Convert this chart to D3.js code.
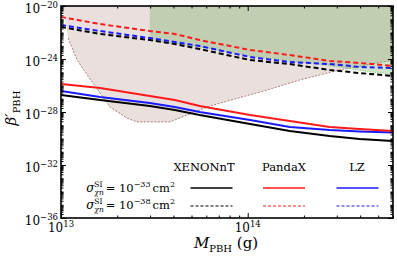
<!DOCTYPE html>
<html lang="en">

<head>
    <meta charset="UTF-8">
    <title>PBH bounds</title>
    <script src="https://d3js.org/d3.v7.min.js"></script>
    <style>
        body {
            margin: 0;
            padding: 0;
            background: #fff;
        }
    </style>
</head>

<body>
    <div id="chart"></div>

    <script>
        // Mass grid (g) shared by the six detector curves
        const massGrid = [1e13, 1.62e13, 2.99e13, 4.07e13, 5.53e13, 1.03e14, 1.68e14, 2.75e14, 3.97e14, 6e14];

        // log10(beta') for sigma = 1e-33 cm^2 (solid)
        const xenonSolid = [-26.72, -27.09, -27.55, -27.85, -28.23, -28.91, -29.43, -29.81, -30.04, -30.19];
        const pandaSolid = [-25.89, -26.19, -26.79, -27.09, -27.55, -28.23, -28.68, -29.13, -29.28, -29.43];
        const lzSolid = [-26.42, -26.87, -27.32, -27.62, -28.00, -28.60, -29.13, -29.36, -29.47, -29.55];

        // log10(beta') for sigma = 1e-38 cm^2 (dashed)
        const xenonDashed = [-21.58, -22.11, -22.57, -22.87, -23.25, -24.08, -24.38, -24.83, -25.06, -25.28];
        const pandaDashed = [-20.83, -21.36, -21.89, -22.11, -22.57, -23.32, -23.70, -24.15, -24.30, -24.53];
        const lzDashed = [-21.43, -21.89, -22.42, -22.72, -23.02, -23.85, -24.23, -24.38, -24.60, -24.68];

        // brown excluded region, lower edge (dotted)
        const brownMass = [1.025e13, 1.09e13, 1.22e13, 1.48e13, 1.83e13, 2.25e13, 2.55e13, 3.83e13, 6.27e13, 1.27e14, 1.9e14, 3.1e14, 4.33e14, 6e14];
        const brownLogBeta = [-20, -22.42, -24.08, -25.81, -27.62, -28.45, -28.75, -28.75, -27.55, -26.34, -25.58, -24.83, -24.45, -24.08];

        // green excluded region, lower edge (dotted)
        const greenMass = [2.99e13, 5.53e13, 1.03e14, 1.9e14, 3.1e14, 4.49e14, 6e14];
        const greenLogBeta = [-22.57, -23.09, -23.77, -24.23, -24.60, -24.98, -25.13];

        const yTickExps = [-20, -24, -28, -32, -36];
        const xTickExps = [13, 14];
        const experiments = ['XENONnT', 'PandaX', 'LZ'];
        const expColors = ['#000000', '#ff1a1a', '#1a1aff'];
        const sigmaExps = ['\u221233', '\u221238'];

        const W = 397, H = 259;
        const margin = { top: 6, right: 4, bottom: 41, left: 61 };
        const width = W - margin.left - margin.right,
            height = H - margin.top - margin.bottom;
        const serif = "'DejaVu Serif', serif";

        const svg = d3.select("#chart")
            .append("svg")
            .attr("width", W)
            .attr("height", H)
            .attr("font-family", serif);

        const g = svg.append("g")
            .attr("transform", `translate(${margin.left},${margin.top})`);

        const x = d3.scaleLog().domain([1e13, 6e14]).range([0, width]);
        const y = d3.scaleLog().domain([1e-36, 1e-20]).range([height, 0]);
        const p = e => Math.pow(10, e);

        g.append("defs").append("clipPath").attr("id", "clip")
            .append("rect").attr("width", width).attr("height", height);

        const plot = g.append("g").attr("clip-path", "url(#clip)");

        // brown region
        const brownPts = brownMass.map((m, i) => [x(m), y(p(brownLogBeta[i]))]);
        const brownPoly = [[x(6e14), y(1e-20)], ...brownPts.slice().reverse()];
        plot.append("path")
            .attr("d", d3.line()(brownPoly) + "Z")
            .attr("fill", "#e9dfdc");
        plot.append("path")
            .attr("d", d3.line()(brownPts.slice(1)))
            .attr("fill", "none")
            .attr("stroke", "#a8827a")
            .attr("stroke-width", 1)
            .attr("stroke-dasharray", "2,1.5");

        // green region
        const greenPts = greenMass.map((m, i) => [x(m), y(p(greenLogBeta[i]))]);
        const greenPoly = [[x(greenMass[0]), y(1e-20)], [x(6e14), y(1e-20)], ...greenPts.slice().reverse()];
        plot.append("path")
            .attr("d", d3.line()(greenPoly) + "Z")
            .attr("fill", "rgba(110,170,90,0.32)");
        plot.append("path")
            .attr("d", d3.line()(greenPts))
            .attr("fill", "none")
            .attr("stroke", "#7cc47a")
            .attr("stroke-width", 1)
            .attr("stroke-dasharray", "1,1.5");

        // curves
        const curve = d3.line()
            .x((d, i) => x(massGrid[i]))
            .y(d => y(p(d)));

        const series = [
            { data: xenonDashed, color: expColors[0], dash: "5,3" },
            { data: lzDashed, color: expColors[2], dash: "5,3" },
            { data: pandaDashed, color: expColors[1], dash: "5,3" },
            { data: xenonSolid, color: expColors[0], dash: null },
            { data: lzSolid, color: expColors[2], dash: null },
            { data: pandaSolid, color: expColors[1], dash: null }
        ];
        series.forEach(s => {
            plot.append("path")
                .datum(s.data)
                .attr("fill", "none")
                .attr("stroke", s.color)
                .attr("stroke-width", 2)
                .attr("stroke-dasharray", s.dash)
                .attr("d", curve);
        });

        // axes: ticks inward on all four sides
        const yMajor = yTickExps.map(p);
        const yMinor = [];
        for (let e = -36; e < -20; e++) {
            for (let k = 1; k < 10; k++) {
                const v = k * p(e);
                if (!yMajor.includes(v)) yMinor.push(v);
            }
        }
        const xMajor = xTickExps.map(p);
        const xMinor = [2, 3, 4, 5, 6, 7, 8, 9].map(k => k * 1e13).concat([2, 3, 4, 5, 6].map(k => k * 1e14));

        function styleAxis(sel) {
            sel.select(".domain").remove();
            sel.selectAll("line").attr("stroke", "#000").attr("stroke-width", 1);
            sel.selectAll("text").remove();
        }

        g.append("g").call(d3.axisLeft(y).tickValues(yMajor).tickSize(-5)).call(styleAxis);
        g.append("g").call(d3.axisLeft(y).tickValues(yMinor).tickSize(-2.5)).call(styleAxis);
        g.append("g").attr("transform", `translate(${width},0)`)
            .call(d3.axisRight(y).tickValues(yMajor).tickSize(-5)).call(styleAxis);
        g.append("g").attr("transform", `translate(${width},0)`)
            .call(d3.axisRight(y).tickValues(yMinor).tickSize(-2.5)).call(styleAxis);
        g.append("g").attr("transform", `translate(0,${height})`)
            .call(d3.axisBottom(x).tickValues(xMajor).tickSize(-5)).call(styleAxis);
        g.append("g").attr("transform", `translate(0,${height})`)
            .call(d3.axisBottom(x).tickValues(xMinor).tickSize(-2.5)).call(styleAxis);
        g.append("g").call(d3.axisTop(x).tickValues(xMajor).tickSize(-5)).call(styleAxis);
        g.append("g").call(d3.axisTop(x).tickValues(xMinor).tickSize(-2.5)).call(styleAxis);

        g.append("rect")
            .attr("width", width)
            .attr("height", height)
            .attr("fill", "none")
            .attr("stroke", "#000")
            .attr("stroke-width", 1.6);

        // tick labels
        yTickExps.forEach(e => {
            const t = g.append("text")
                .attr("x", -3)
                .attr("y", y(p(e)) + 7)
                .attr("text-anchor", "end")
                .attr("font-size", 12);
            t.append("tspan").text("10");
            t.append("tspan").attr("dy", -5).attr("font-size", 8.5).text("\u2212" + Math.abs(e));
        });
        xTickExps.forEach(e => {
            const t = g.append("text")
                .attr("x", x(p(e)))
                .attr("y", height + 14)
                .attr("text-anchor", "middle")
                .attr("font-size", 12);
            t.append("tspan").text("10");
            t.append("tspan").attr("dy", -5).attr("font-size", 8.5).text(e);
        });

        // axis titles
        const xt = svg.append("text")
            .attr("x", 226)
            .attr("y", 248)
            .attr("text-anchor", "middle")
            .attr("font-size", 15);
        xt.append("tspan").attr("font-style", "italic").text("M");
        xt.append("tspan").attr("dy", 4).attr("font-size", 10).text("PBH");
        xt.append("tspan").attr("dy", -4).text(" (g)");

        const yt = svg.append("text")
            .attr("transform", "translate(16,108) rotate(-90)")
            .attr("text-anchor", "middle")
            .attr("font-size", 15);
        yt.append("tspan").attr("font-style", "italic").text("\u03b2\u2032");
        yt.append("tspan").attr("dy", 4).attr("font-size", 10).text("PBH");

        // legend
        const legTextX = [204, 284, 357];
        const legLineX = [211.5, 284, 357.5];
        const legHalf = 21;
        const rowY = [188, 206];
        experiments.forEach((name, i) => {
            svg.append("text")
                .attr("x", legTextX[i])
                .attr("y", 171)
                .attr("text-anchor", "middle")
                .attr("font-size", 11.5)
                .text(name);
            svg.append("line")
                .attr("x1", legLineX[i] - legHalf).attr("x2", legLineX[i] + legHalf)
                .attr("y1", rowY[0]).attr("y2", rowY[0])
                .attr("stroke", expColors[i]).attr("stroke-width", 1.5);
            svg.append("line")
                .attr("x1", legLineX[i] - legHalf).attr("x2", legLineX[i] + legHalf)
                .attr("y1", rowY[1]).attr("y2", rowY[1])
                .attr("stroke", expColors[i]).attr("stroke-width", 1.2)
                .attr("stroke-dasharray", "3,2");
        });

        // row labels: sigma^SI_{chi n} = 10^-xx cm^2, fitted between startX and endX
        function rowLabel(expTxt, baseY, startX, endX) {
            const grp = svg.append("g");
            let cx = 0;
            const put = (txt, dy, size, italic) => {
                const t = grp.append("text")
                    .attr("x", cx).attr("y", dy)
                    .attr("font-size", size)
                    .attr("font-style", italic ? "italic" : "normal")
                    .text(txt);
                return t.node().getComputedTextLength();
            };
            cx += put("\u03c3", 0, 12, true);
            const w1 = put("SI", -5, 7.5, false);
            const w2 = put("\u03c7n", 3, 7.5, true);
            cx += Math.max(w1, w2) + 2;
            cx += put("= 10", 0, 11.5, false);
            cx += put("\u2212" + expTxt.slice(1), -5.5, 8, false) + 2;
            cx += put("cm", 0, 11.5, false);
            cx += put("2", -5.5, 8, false);
            const k = Math.min(1, (endX - startX) / cx);
            grp.attr("transform", `translate(${endX - cx * k},${baseY}) scale(${k},1)`);
        }
        rowLabel(sigmaExps[0], rowY[0] + 4, 86, 175);
        rowLabel(sigmaExps[1], rowY[1] + 3, 86, 175);
    </script>
</body>

</html>
